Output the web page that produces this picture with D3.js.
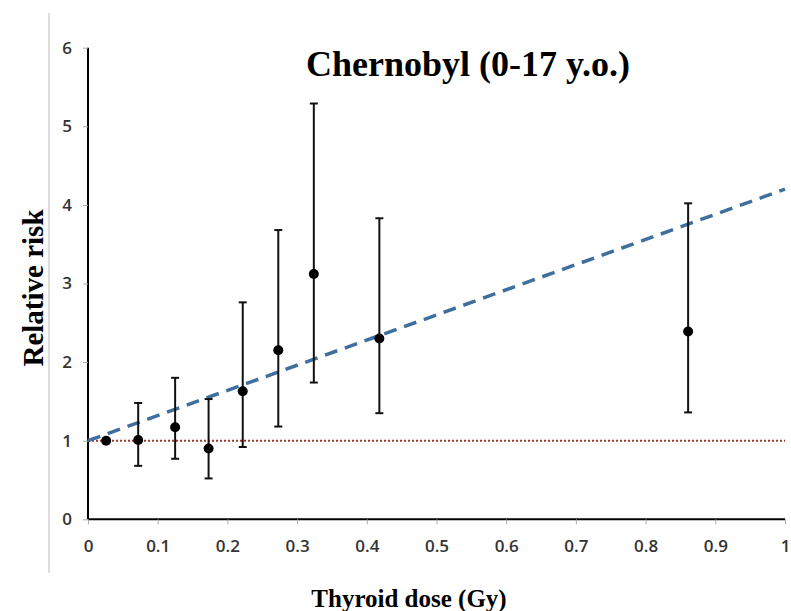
<!DOCTYPE html>
<html>
<head>
<meta charset="utf-8">
<script src="https://cdnjs.cloudflare.com/ajax/libs/d3/7.8.5/d3.min.js"></script>
<style>
  body { margin: 0; background: #fff; }
</style>
</head>
<body>
<svg id="chart" width="791" height="611"></svg>
<script>
// dose groups (Gy) and relative risk with confidence limits
let doses  = [0.026, 0.072, 0.125, 0.173, 0.222, 0.273, 0.324, 0.418, 0.861];
let risk   = [1.00, 1.01, 1.17, 0.90, 1.63, 2.15, 3.12, 2.30, 2.39];
let lower  = [null, 0.68, 0.77, 0.52, 0.92, 1.18, 1.74, 1.35, 1.36];
let upper  = [null, 1.48, 1.80, 1.53, 2.76, 3.68, 5.29, 3.83, 4.02];

// fitted linear trend: relative risk at dose 0 and dose 1
let fitDose = [0, 1];
let fitRisk = [1.0, 4.2];

let xTicks = [0, 0.1, 0.2, 0.3, 0.4, 0.5, 0.6, 0.7, 0.8, 0.9, 1];
let yTicks = [0, 1, 2, 3, 4, 5, 6];

let svg = d3.select("#chart");

let x = d3.scaleLinear().domain([0, 1]).range([88, 785]);
let y = d3.scaleLinear().domain([0, 6]).range([519.3, 47.7]);

// thin grey frame line on the left
svg.append("line")
    .attr("x1", 49).attr("x2", 49)
    .attr("y1", 13).attr("y2", 573)
    .attr("stroke", "#bbb")
    .attr("stroke-width", 1);

// axes
let xAxis = svg.append("g")
    .attr("transform", "translate(0," + y(0) + ")")
    .call(d3.axisBottom(x).tickValues(xTicks).tickSize(5).tickPadding(16)
        .tickFormat(d => d === 0 || d === 1 ? d3.format("d")(d) : d3.format(".1f")(d)));

let yAxis = svg.append("g")
    .attr("transform", "translate(" + x(0) + ",0)")
    .call(d3.axisLeft(y).tickValues(yTicks).tickSize(5).tickPadding(11)
        .tickFormat(d3.format("d")));

xAxis.select(".domain").attr("d", "M" + x(0) + ",0H" + x(1));
yAxis.select(".domain").attr("d", "M0," + y(0) + "V" + y(6));

[xAxis, yAxis].forEach(function (ax) {
    ax.attr("font-size", 17).attr("font-family", "'Open Sans', sans-serif");
    ax.select(".domain").attr("stroke", "#000").attr("stroke-width", 2);
    ax.selectAll(".tick line").attr("stroke", "#aaa");
    ax.selectAll(".tick text")
        .attr("font-weight", 600)
        .attr("fill", "#333");
});

// reference line at RR = 1
svg.append("line")
    .attr("x1", x(0)).attr("x2", x(1))
    .attr("y1", y(1)).attr("y2", y(1))
    .attr("stroke", "#a8332b")
    .attr("stroke-width", 2)
    .attr("stroke-dasharray", "2,2");

// linear trend
let trend = d3.line()
    .x((d, i) => x(fitDose[i]))
    .y(d => y(d));

svg.append("path")
    .datum(fitRisk)
    .attr("d", trend)
    .attr("fill", "none")
    .attr("stroke", "#3e6f9d")
    .attr("stroke-width", 3.5)
    .attr("stroke-dasharray", "13,8");

// error bars
let points = doses.map((d, i) => ({dose: d, rr: risk[i], lo: lower[i], hi: upper[i]}));
let bars = svg.append("g").selectAll("g")
    .data(points.filter(d => d.lo !== null))
    .enter().append("g");

bars.append("line")
    .attr("x1", d => x(d.dose)).attr("x2", d => x(d.dose))
    .attr("y1", d => y(d.lo)).attr("y2", d => y(d.hi))
    .attr("stroke", "#111").attr("stroke-width", 2);

bars.append("line")
    .attr("x1", d => x(d.dose) - 4).attr("x2", d => x(d.dose) + 4)
    .attr("y1", d => y(d.hi)).attr("y2", d => y(d.hi))
    .attr("stroke", "#111").attr("stroke-width", 2);

bars.append("line")
    .attr("x1", d => x(d.dose) - 4).attr("x2", d => x(d.dose) + 4)
    .attr("y1", d => y(d.lo)).attr("y2", d => y(d.lo))
    .attr("stroke", "#111").attr("stroke-width", 2);

// points
svg.append("g").selectAll("circle")
    .data(points)
    .enter().append("circle")
    .attr("cx", d => x(d.dose))
    .attr("cy", d => y(d.rr))
    .attr("r", 5)
    .attr("fill", "#000");

// labels
svg.append("text")
    .attr("x", 468).attr("y", 76)
    .attr("text-anchor", "middle")
    .style("font-family", "'Liberation Serif', 'Times New Roman', serif")
    .style("font-weight", "bold")
    .style("font-size", "36px")
    .text("Chernobyl (0-17 y.o.)");

svg.append("text")
    .attr("x", 409).attr("y", 607)
    .attr("text-anchor", "middle")
    .style("font-family", "'Liberation Serif', 'Times New Roman', serif")
    .style("font-weight", "bold")
    .style("font-size", "25px")
    .text("Thyroid dose (Gy)");

svg.append("text")
    .attr("transform", "translate(43,288) rotate(-90)")
    .attr("text-anchor", "middle")
    .style("font-family", "'Liberation Serif', 'Times New Roman', serif")
    .style("font-weight", "bold")
    .style("font-size", "29px")
    .text("Relative risk");
</script>
</body>
</html>
